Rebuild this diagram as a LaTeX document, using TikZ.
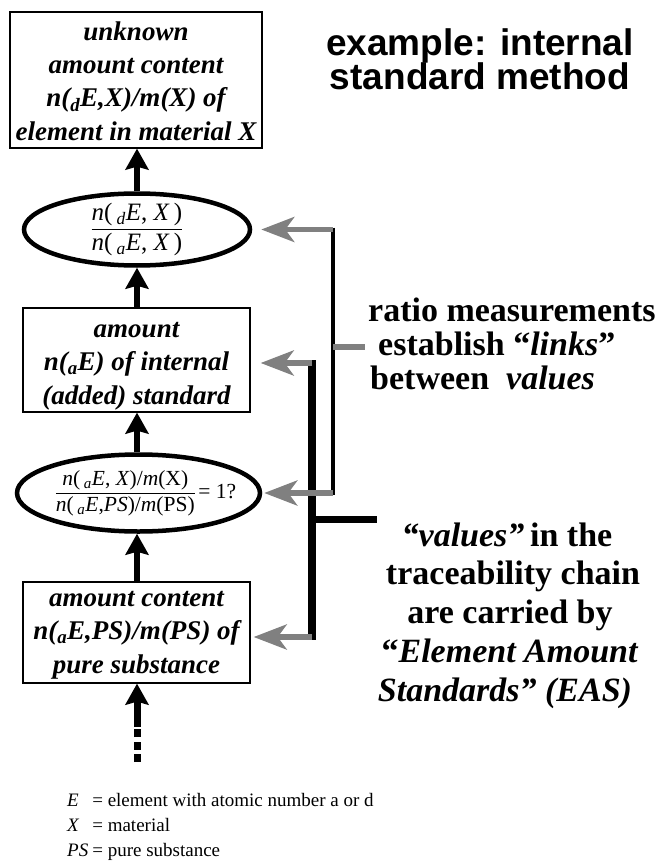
\documentclass[tikz,border=0pt]{standalone}
\usepackage{fontspec}
\setmainfont{Liberation Serif}
\newfontfamily\headsans{Liberation Sans}
\usetikzlibrary{arrows.meta,shapes.geometric,calc}
\setlength{\arrayrulewidth}{1pt}
\definecolor{linkgray}{gray}{0.5}
\newcommand\boxtextfont{\fontsize{27}{33.3}\selectfont\bfseries\itshape}
\newcommand\fracAfont{\fontsize{25}{29}\selectfont}
\newcommand\fracBfont{\fontsize{21.5}{25}\selectfont}
\newcommand\notefont{\fontsize{34}{38}\selectfont\bfseries}
\newcommand\legendfont{\fontsize{19}{25}\selectfont}
\newcommand\sub[1]{\textsubscript{#1}}
\begin{document}
\begin{tikzpicture}[x=1pt,y=-1pt,
  boxnode/.style={draw, line width=1.3pt, inner sep=0pt},
  boxtext/.style={inner sep=0pt, align=center, font=\boxtextfont},
  ellnode/.style={ellipse, draw, line width=4.5pt, inner sep=0pt},
  uparrow/.style={line width=6pt, -{Stealth[length=21pt,width=23pt,inset=3pt]}},
  linkarrow/.style={draw=linkgray, line width=5.5pt, -{Stealth[length=33pt,width=25pt,inset=9pt]}},
  linkstub/.style={draw=linkgray, line width=5.5pt},
  titletext/.style={font=\headsans\fontsize{37}{33}\selectfont\bfseries, inner sep=0pt},
  notetext/.style={font=\notefont, inner sep=0pt}]
\useasboundingbox (0,0) rectangle (657,861);

% chain of quantities
\node[boxnode, minimum width=252pt, minimum height=136pt] (b1) at (136,80) {};
\node[boxtext] (b1t) at (136,81)
  {unknown\\amount content\\n(\sub{d}E,X)/m(X) of\\element in material X};
\node[ellnode, minimum width=226pt, minimum height=72pt] (e1) at (137,229.5) {};
\node[font=\fracAfont, inner sep=0pt] (e1t) at (e1.center)
  {\begin{tabular}{@{}c@{}}\textit{n}(\,\sub{\textit{d}}\textit{E}, \textit{X}\,)\\\hline
   \textit{n}(\,\sub{\textit{a}}\textit{E}, \textit{X}\,)\end{tabular}};
\node[boxnode, minimum width=227pt, minimum height=104pt] (b2) at (136.5,360) {};
\node[boxtext] (b2t) at (136.5,366)
  {amount\\n(\sub{a}E) of internal\\(added) standard};
\node[ellnode, minimum width=243pt, minimum height=77pt] (e2) at (138.5,493) {};
\node[font=\fracBfont, inner sep=0pt] (e2t) at (146,493)
  {\begin{tabular}{@{}c@{}}\textit{n}(\,\sub{\textit{a}}\textit{E}, \textit{X})/\textit{m}(X)\\\hline
   \textit{n}(\,\sub{\textit{a}}\textit{E},\textit{PS})/\textit{m}(PS)\end{tabular}\,= 1?};
\node[boxnode, minimum width=227pt, minimum height=101pt] (b3) at (136.5,632.5) {};
\node[boxtext] (b3t) at (136.5,635)
  {amount content\\n(\sub{a}E,PS)/m(PS) of\\pure substance};

% upward steps of the chain
\draw[uparrow] (e1.north -| 137,0) -- (b1.south -| 137,0);
\draw[uparrow] (b2.north -| 137,0) -- (e1.south -| 137,0);
\draw[uparrow] (e2.north -| 137,0) -- (b2.south -| 137,0);
\draw[uparrow] (b3.north -| 137,0) -- (e2.south -| 137,0);
\coordinate (src) at (137,762);
\coordinate (srcend) at (137,727);
\draw[line width=7pt, dash pattern=on 8pt off 4.5pt] (src) -- (srcend);
\draw[uparrow, line width=7pt] (srcend) -- (b3.south -| 137,0);

% ratio measurement links
\coordinate (t1) at (333,229.5);
\coordinate (t2) at (333,493);
\coordinate (ts) at (333,347);
\coordinate (tsend) at (365,347);
\coordinate (k1) at (312,363);
\coordinate (k2) at (312,637);
\coordinate (ks) at (312,519);
\coordinate (ksend) at (377,519);
\draw[line width=4pt, shorten <=-2pt, shorten >=-2pt] (t1) -- (t2);
\draw[line width=7.5pt, shorten <=-2.75pt, shorten >=-2.75pt] (k1) -- (k2);
\draw[line width=7pt] (ks) -- (ksend);
\draw[linkstub] (ts) -- (tsend);
\draw[linkarrow] (t1) -- ($(e1.east |- t1)+(9,0)$);
\draw[linkarrow] (t2) -- ($(e2.east |- t2)+(2,0)$);
\draw[linkarrow] (k1) -- ($(b2.east |- k1)+(10,0)$);
\draw[linkarrow] (k2) -- ($(b3.east |- k2)+(3,0)$);

% headings and notes
\node[titletext, anchor=base] (title1) at (480,56) {example: internal};
\node[titletext, anchor=base] (title2) at (480,90) {standard method};

\node[notetext, anchor=base west] (r1) at (368,321) {ratio measurements};
\node[notetext, anchor=base west] (r2) at (378,355) {establish “\textit{links}”};
\node[notetext, anchor=base west] (r3) at (370,389) {between\ \ \textit{values}};

\node[notetext, anchor=base] (v1) at (507,546) {\textit{“values”}\,in the};
\node[notetext, anchor=base] (v2) at (513,584) {traceability chain};
\node[notetext, anchor=base] (v3) at (510,623) {are carried by};
\node[notetext, anchor=base] (v4) at (510,662) {“\textit{Element Amount}};
\node[notetext, anchor=base] (v5) at (505,701) {\textit{Standards” (EAS)}};

% symbol legend
\node[font=\legendfont, inner sep=0pt, anchor=base west] (legend) at (67,806)
  {\begin{tabular}[t]{@{}l@{\hspace{4pt}}l@{}}
   \textit{E} & = element with atomic number a or d\\
   \textit{X} & = material\\
   \textit{PS} & = pure substance
   \end{tabular}};
\end{tikzpicture}
\end{document}
